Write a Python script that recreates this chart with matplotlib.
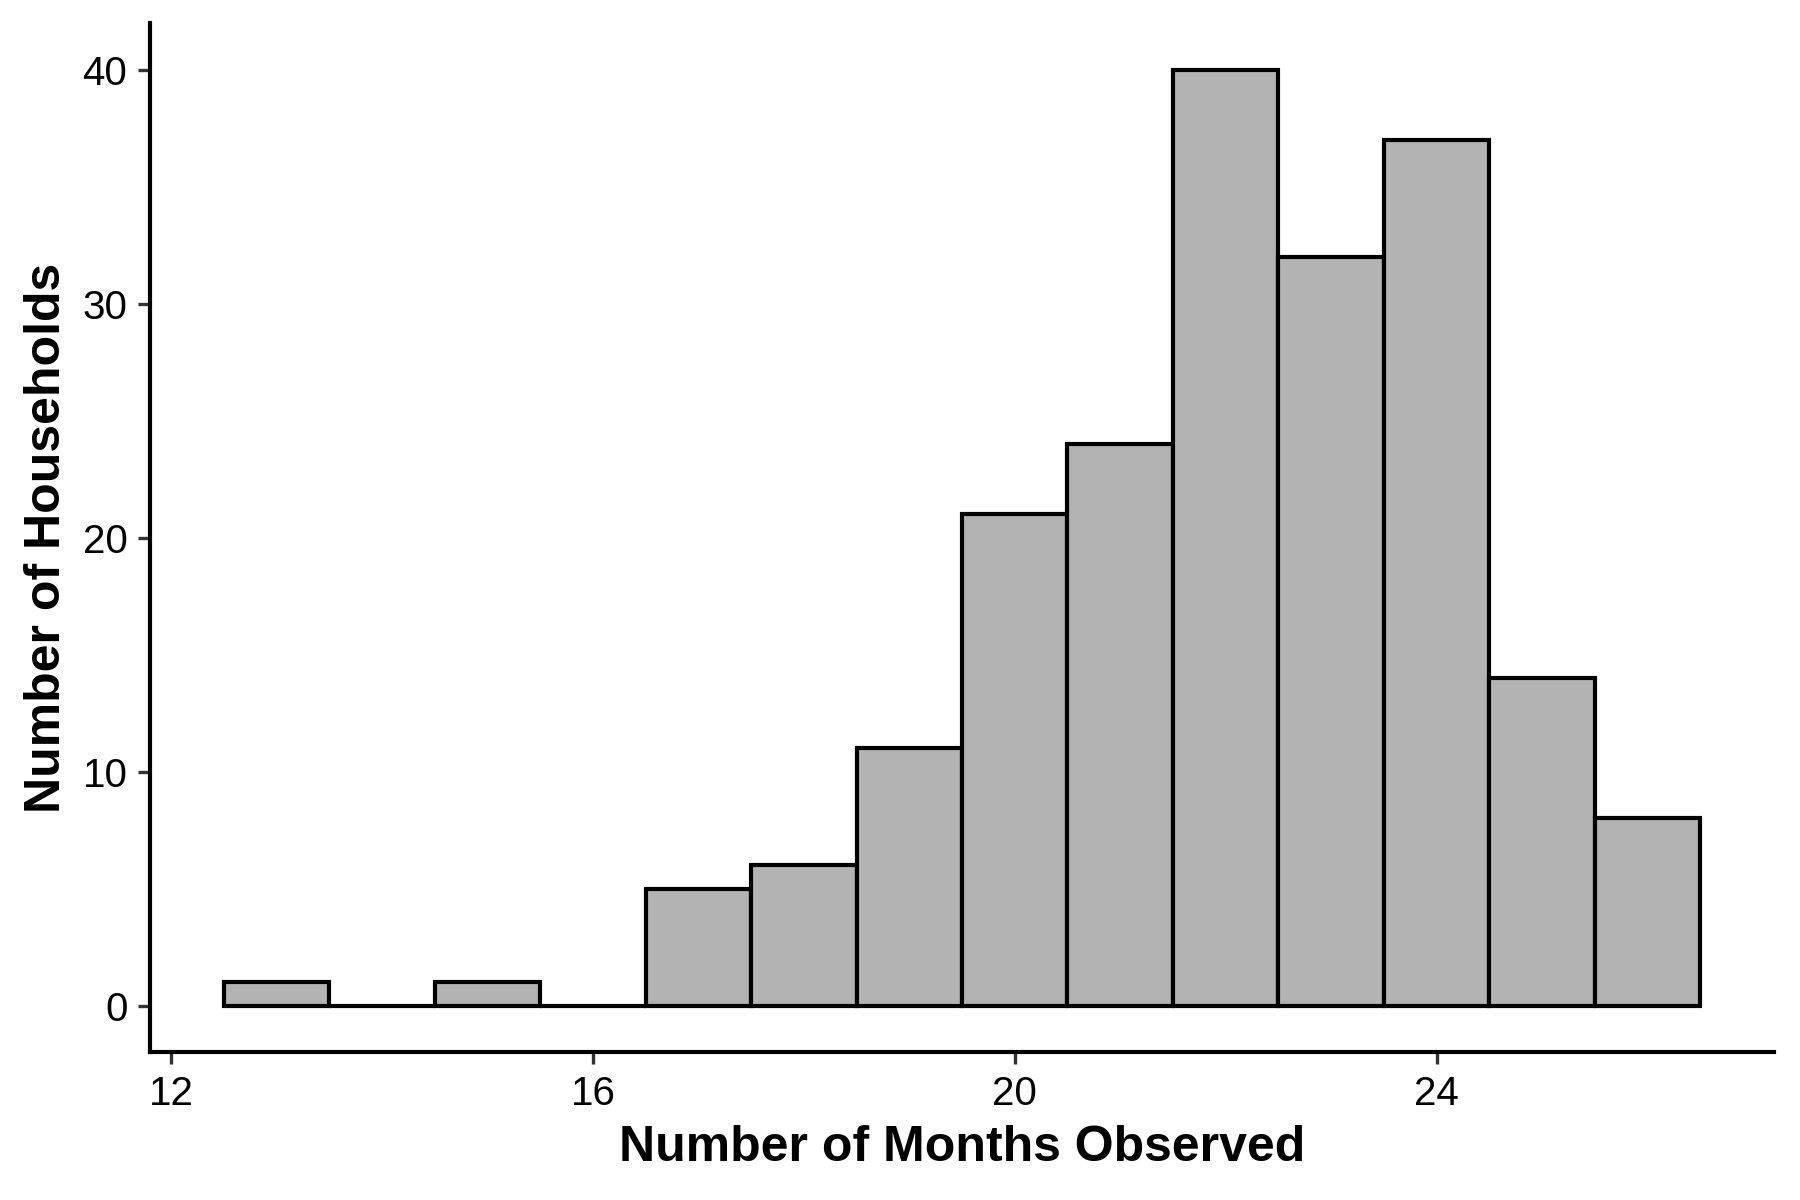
import matplotlib
matplotlib.use("Agg")
import matplotlib.pyplot as plt

plt.rcParams['font.family'] = ['Liberation Sans', 'DejaVu Sans']

# histogram bins (months observed) and household counts
months = [13, 14, 15, 16, 17, 18, 19, 20, 21, 22, 23, 24, 25, 26]
households = [1, 0, 1, 0, 5, 6, 11, 21, 24, 40, 32, 37, 14, 8]
xticks = [12, 16, 20, 24]
yticks = [0, 10, 20, 30, 40]

fig = plt.figure(figsize=(6, 4), dpi=300)
ax = fig.add_axes([0.0833, 0.123, 0.9023, 0.858])

ax.bar(months, households, width=1.0, color='#b3b3b3', edgecolor='black', linewidth=1.0)

ax.set_xlim(11.8, 27.2)
ax.set_ylim(-2, 42)
ax.set_xticks(xticks)
ax.set_yticks(yticks)

for s in ['top', 'right']:
    ax.spines[s].set_visible(False)
for s in ['left', 'bottom']:
    ax.spines[s].set_linewidth(1.0)
    ax.spines[s].set_color('black')

ax.tick_params(direction='out', length=2.9, width=0.8, color='#333333',
               labelsize=9.7, labelcolor='black', pad=2.5)

ax.set_xlabel('Number of Months Observed', fontsize=12, fontweight='bold', labelpad=3)
ax.set_ylabel('Number of Households', fontsize=12, fontweight='bold', labelpad=3)

fig.savefig('out.png', dpi=300)
